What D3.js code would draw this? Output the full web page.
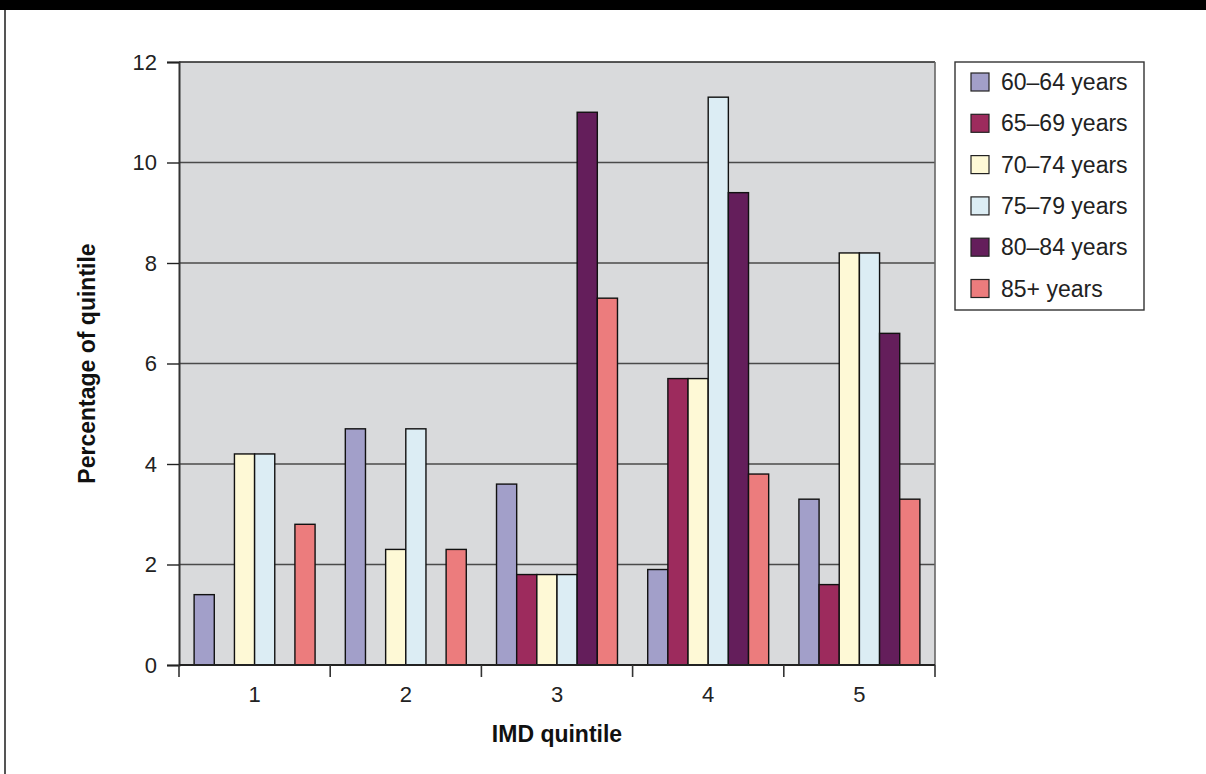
<!DOCTYPE html>
<html>
<head>
<meta charset="utf-8">
<script src="https://cdn.jsdelivr.net/npm/d3@7"></script>
<style>
  html, body { margin: 0; padding: 0; background: #ffffff; }
  svg { display: block; font-family: "Liberation Sans", Arial, Helvetica, sans-serif; }
</style>
</head>
<body>
<svg id="chart" width="1206" height="774"></svg>
<script>
// IMD quintiles on the x axis
const quintiles = ["1", "2", "3", "4", "5"];

// Age bands (one bar per band inside each quintile)
const ageBands = ["60–64 years", "65–69 years", "70–74 years", "75–79 years", "80–84 years", "85+ years"];
const bandColors = ["#a29fc9", "#9d2b5d", "#fef9d6", "#dcedf4", "#641e5b", "#ec7c7d"];

// Percentage of quintile, one array per age band (index follows quintiles)
const age60to64 = [1.4, 4.7, 3.6, 1.9, 3.3];
const age65to69 = [0, 0, 1.8, 5.7, 1.6];
const age70to74 = [4.2, 2.3, 1.8, 5.7, 8.2];
const age75to79 = [4.2, 4.7, 1.8, 11.3, 8.2];
const age80to84 = [0, 0, 11.0, 9.4, 6.6];
const age85plus = [2.8, 2.3, 7.3, 3.8, 3.3];
const seriesValues = [age60to64, age65to69, age70to74, age75to79, age80to84, age85plus];

const yTicks = [0, 2, 4, 6, 8, 10, 12];

const svg = d3.select("#chart");

// Frame: black strip along the top and a grey rule down the left edge
svg.append("rect").attr("x", 0).attr("y", 0).attr("width", 1206).attr("height", 10).attr("fill", "#000");
svg.append("line").attr("x1", 5).attr("x2", 5).attr("y1", 10).attr("y2", 774)
  .attr("stroke", "#555").attr("stroke-width", 2);

const plot = { left: 179, right: 935, top: 62, bottom: 665 };

const x0 = d3.scaleBand().domain(quintiles).range([plot.left, plot.right]).padding(0);
const bw = x0.bandwidth();
const barW = bw / (ageBands.length + 1.5);
const x1 = d3.scaleBand().domain(ageBands).range([0.75 * barW, bw - 0.75 * barW]).padding(0);
const y = d3.scaleLinear().domain([0, 12]).range([plot.bottom, plot.top]);

// Plot background
svg.append("rect")
  .attr("x", plot.left).attr("y", plot.top)
  .attr("width", plot.right - plot.left).attr("height", plot.bottom - plot.top)
  .attr("fill", "#d9dadc");

// Horizontal gridlines
svg.append("g").selectAll("line").data(yTicks.filter(t => t > 0)).join("line")
  .attr("x1", plot.left).attr("x2", plot.right)
  .attr("y1", d => y(d)).attr("y2", d => y(d))
  .attr("stroke", d => d === 12 ? "#222" : "#4a4a4a").attr("stroke-width", 1.4);

// Right edge of plot area
svg.append("line").attr("x1", plot.right).attr("x2", plot.right)
  .attr("y1", plot.top).attr("y2", plot.bottom)
  .attr("stroke", "#666").attr("stroke-width", 1.6);

// Bars
const groups = svg.append("g").selectAll("g").data(quintiles).join("g")
  .attr("transform", d => `translate(${x0(d)},0)`);

groups.selectAll("rect")
  .data((q, qi) => ageBands.map((b, bi) => ({ band: b, bi, v: seriesValues[bi][qi] })).filter(d => d.v > 0))
  .join("rect")
  .attr("x", d => x1(d.band))
  .attr("y", d => y(d.v))
  .attr("width", x1.bandwidth())
  .attr("height", d => y(0) - y(d.v))
  .attr("fill", d => bandColors[d.bi])
  .attr("stroke", "#111")
  .attr("stroke-width", 1.4);

// Y axis
const yAxis = svg.append("g")
  .attr("transform", `translate(${plot.left},0)`)
  .call(d3.axisLeft(y).tickValues(yTicks).tickFormat(d3.format("d")).tickSize(12).tickPadding(10));
yAxis.select(".domain").attr("stroke", "#333").attr("stroke-width", 2);
yAxis.selectAll(".tick line").attr("stroke", "#222").attr("stroke-width", 1.4);
yAxis.selectAll(".tick text").attr("font-size", 22).attr("fill", "#222")
  .attr("font-family", "'Liberation Sans', Arial, sans-serif");

// X axis: ticks sit on the quintile boundaries, labels centred in each band
const xAxisG = svg.append("g").attr("transform", `translate(0,${plot.bottom})`);
xAxisG.append("line").attr("x1", plot.left).attr("x2", plot.right)
  .attr("y1", 0).attr("y2", 0).attr("stroke", "#222").attr("stroke-width", 2);
const boundaries = quintiles.map(q => x0(q)).concat([plot.right]);
xAxisG.selectAll("line.tk").data(boundaries).join("line")
  .attr("class", "tk")
  .attr("x1", d => d).attr("x2", d => d).attr("y1", 0).attr("y2", 12)
  .attr("stroke", "#333").attr("stroke-width", 1.6);
xAxisG.selectAll("text").data(quintiles).join("text")
  .attr("x", d => x0(d) + bw / 2).attr("y", 37)
  .attr("text-anchor", "middle").attr("font-size", 22).attr("fill", "#222")
  .text(d => d);

// Axis titles
svg.append("text")
  .attr("x", (plot.left + plot.right) / 2).attr("y", 742)
  .attr("text-anchor", "middle").attr("font-size", 23).attr("font-weight", "bold").attr("fill", "#111")
  .text("IMD quintile");

svg.append("text")
  .attr("transform", `translate(95,${(plot.top + plot.bottom) / 2}) rotate(-90)`)
  .attr("text-anchor", "middle").attr("font-size", 23).attr("font-weight", "bold").attr("fill", "#111")
  .text("Percentage of quintile");

// Legend
const legend = svg.append("g");
legend.append("rect")
  .attr("x", 955).attr("y", 62).attr("width", 189).attr("height", 248)
  .attr("fill", "#fff").attr("stroke", "#333").attr("stroke-width", 1.4);
const rowY = i => 82 + i * 41.3;
const items = legend.selectAll("g.item").data(ageBands).join("g").attr("class", "item");
items.append("rect")
  .attr("x", 971).attr("y", (d, i) => rowY(i) - 9)
  .attr("width", 18).attr("height", 18)
  .attr("fill", (d, i) => bandColors[i]).attr("stroke", "#222").attr("stroke-width", 1.2);
items.append("text")
  .attr("x", 1001).attr("y", (d, i) => rowY(i) + 8)
  .attr("font-size", 23).attr("fill", "#222")
  .text(d => d);
</script>
</body>
</html>
